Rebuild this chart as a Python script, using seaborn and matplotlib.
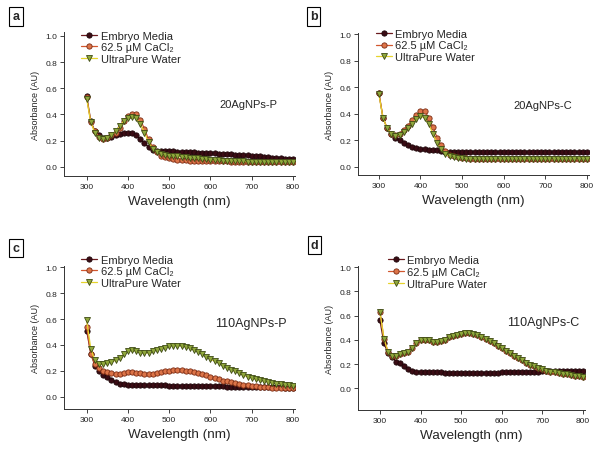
import matplotlib
matplotlib.use("Agg")
import matplotlib.pyplot as plt
import pandas as pd
import seaborn as sns

wavelength = [300, 310, 320, 330, 340, 350, 360, 370, 380, 390,
              400, 410, 420, 430, 440, 450, 460, 470, 480, 490,
              500, 510, 520, 530, 540, 550, 560, 570, 580, 590,
              600, 610, 620, 630, 640, 650, 660, 670, 680, 690,
              700, 710, 720, 730, 740, 750, 760, 770, 780, 790, 800]

series_names = ["Embryo Media", "62.5 µM CaCl₂", "UltraPure Water"]
panel_letters = ["a", "b", "c", "d"]
panel_titles = ["20AgNPs-P", "20AgNPs-C", "110AgNPs-P", "110AgNPs-C"]

# panel a: 20AgNPs-P
a_embryo = [.54, .35, .27, .24, .22, .22, .23, .24, .25, .26,
            .26, .255, .24, .21, .18, .15, .13, .122, .122, .121,
            .12, .118, .117, .116, .114, .112, .111, .109, .107, .105,
            .104, .102, .10, .098, .096, .095, .093, .091, .089, .087,
            .085, .082, .079, .076, .074, .071, .068, .066, .063, .06, .058]
a_cacl2 = [.53, .34, .27, .23, .21, .22, .24, .26, .30, .35,
           .39, .40, .40, .36, .29, .21, .15, .11, .085, .072,
           .065, .06, .056, .053, .05, .048, .047, .046, .045, .044,
           .043, .042, .042, .041, .041, .04, .04, .04, .04, .04,
           .04, .04, .04, .04, .04, .04, .04, .04, .04, .04, .04]
a_water = [.52, .34, .26, .22, .21, .22, .24, .27, .31, .35,
           .37, .38, .37, .33, .26, .19, .14, .11, .095, .09,
           .085, .082, .079, .076, .073, .07, .067, .064, .061, .058,
           .055, .052, .05, .048, .046, .044, .043, .042, .041, .04,
           .04, .04, .04, .04, .04, .04, .04, .04, .04, .04, .04]

# panel b: 20AgNPs-C
b_embryo = [.56, .37, .29, .25, .22, .20, .18, .16, .145, .138,
            .133, .13, .128, .126, .124, .115, .114, .113, .113, .112,
            .112, .112, .111, .111, .111, .111, .11, .11, .11, .11,
            .11, .11, .11, .11, .11, .11, .109, .109, .109, .109,
            .109, .109, .109, .108, .108, .108, .108, .108, .108, .108, .108]
b_cacl2 = [.56, .37, .29, .25, .24, .25, .28, .31, .35, .39,
           .42, .42, .37, .30, .22, .16, .12, .09, .078, .07,
           .066, .063, .061, .06, .06, .06, .06, .06, .06, .06,
           .06, .06, .06, .06, .06, .06, .06, .06, .06, .06,
           .06, .06, .06, .06, .06, .06, .06, .06, .06, .06, .06]
b_water = [.55, .37, .29, .25, .23, .24, .26, .29, .32, .36,
           .38, .37, .32, .25, .18, .13, .095, .078, .07, .065,
           .062, .06, .06, .06, .06, .06, .06, .06, .06, .06,
           .06, .06, .06, .06, .06, .06, .06, .06, .06, .06,
           .06, .06, .06, .06, .06, .06, .06, .06, .06, .06, .06]

# panel c: 110AgNPs-P
c_embryo = [.51, .33, .24, .20, .17, .15, .13, .115, .10, .095,
            .094, .093, .092, .091, .09, .09, .089, .088, .088, .087,
            .086, .086, .085, .085, .084, .083, .083, .082, .081, .081,
            .08, .08, .079, .079, .078, .078, .077, .077, .076, .076,
            .075, .075, .074, .074, .073, .073, .072, .072, .071, .071, .07]
c_cacl2 = [.54, .33, .25, .22, .20, .19, .18, .175, .175, .18,
           .19, .19, .185, .18, .175, .175, .178, .183, .19, .197,
           .202, .205, .205, .203, .20, .195, .19, .185, .175, .165,
           .155, .145, .135, .125, .118, .11, .104, .098, .092, .088,
           .084, .08, .077, .074, .072, .07, .068, .067, .066, .065, .064]
c_water = [.59, .37, .28, .25, .25, .26, .27, .28, .30, .33,
           .35, .36, .35, .34, .335, .34, .35, .36, .37, .38,
           .39, .395, .395, .39, .385, .375, .36, .345, .33, .31,
           .29, .275, .26, .24, .225, .21, .195, .18, .165, .155,
           .145, .135, .127, .12, .114, .108, .102, .097, .092, .087, .082]

# panel d: 110AgNPs-C
d_embryo = [.56, .37, .29, .255, .22, .205, .185, .16, .14, .135,
            .134, .133, .132, .131, .13, .13, .129, .128, .128, .127,
            .127, .127, .127, .127, .127, .127, .128, .128, .129, .129,
            .13, .13, .131, .132, .133, .134, .135, .136, .137, .138,
            .139, .14, .141, .142, .142, .143, .143, .144, .144, .145, .145]
d_cacl2 = [.63, .41, .30, .27, .27, .28, .295, .30, .33, .37,
           .40, .40, .40, .385, .38, .39, .40, .42, .43, .44,
           .45, .455, .455, .45, .44, .425, .41, .39, .37, .35,
           .33, .31, .29, .27, .25, .23, .21, .195, .18, .165,
           .155, .145, .135, .13, .125, .12, .115, .11, .105, .10, .095]
d_water = [.63, .41, .30, .27, .27, .28, .295, .30, .33, .37,
           .40, .40, .40, .385, .38, .39, .40, .42, .43, .44,
           .45, .455, .455, .45, .44, .425, .41, .39, .37, .35,
           .33, .31, .29, .27, .25, .23, .21, .195, .18, .165,
           .155, .145, .135, .13, .125, .12, .115, .11, .105, .10, .095]

panel_data = [
    [a_embryo, a_cacl2, a_water],
    [b_embryo, b_cacl2, b_water],
    [c_embryo, c_cacl2, c_water],
    [d_embryo, d_cacl2, d_water],
]

sns.set_theme(style="ticks")
plt.rcParams["font.family"] = ["Liberation Sans", "DejaVu Sans"]

line_colors = ["#6a1a1e", "#d2572e", "#e6d42c"]
face_colors = ["#3a0c14", "#dc7448", "#90a83c"]
edge_colors = ["#1c0508", "#7a2a12", "#3e4a14"]
markers = ["o", "o", "v"]

# axes boxes in pixels: left, top, right, bottom
boxes = [(64, 33, 295, 177), (358, 34, 589, 176),
         (64, 267, 295, 410), (358, 267, 585, 411)]
ylims = [(-0.07, 1.03), (-0.063, 1.01), (-0.095, 1.01), (-0.18, 1.01)]
xlims = [(245, 805), (250, 805), (245, 805), (246, 805)]
title_pos = [(693, 0.48), (694, 0.466), (698, 0.57), (701, 0.545)]
title_size = [8, 8, 9, 9]
legend_anchor = [(0.074, 1.01), (0.078, 1.03), (0.074, 1.08), (0.13, 1.075)]
letter_pos = [(16, 17.5), (313.5, 17.5), (16, 249), (314.5, 246)]

W, H = 600, 452
fig = plt.figure(figsize=(6, 4.52), dpi=100)

for i in range(4):
    l, t, r, b = boxes[i]
    ax = fig.add_axes([l / W, 1 - b / H, (r - l) / W, (b - t) / H])
    frame = pd.DataFrame({"wavelength": wavelength})
    for j, name in enumerate(series_names):
        frame["absorbance"] = panel_data[i][j]
        sns.lineplot(
            data=frame, x="wavelength", y="absorbance",
            color=line_colors[j], linewidth=0.9, marker=markers[j],
            markersize=3.8, markerfacecolor=face_colors[j],
            markeredgecolor=edge_colors[j], markeredgewidth=0.6,
            label=name, errorbar=None, ax=ax,
        )
    ax.set_xlim(*xlims[i])
    ax.set_ylim(*ylims[i])
    ax.set_xticks([300, 400, 500, 600, 700, 800])
    ax.set_yticks([0.0, 0.2, 0.4, 0.6, 0.8, 1.0])
    ax.set_yticklabels([f"{v:.1f}" for v in [0.0, 0.2, 0.4, 0.6, 0.8, 1.0]])
    ax.tick_params(labelsize=6, length=3, width=0.6, pad=2, colors="#222222")
    for side in ["top", "right"]:
        ax.spines[side].set_visible(False)
    for side in ["left", "bottom"]:
        ax.spines[side].set_linewidth(0.7)
        ax.spines[side].set_color("#333333")
    ax.set_xlabel("Wavelength (nm)", fontsize=9.7, labelpad=4)
    ax.set_ylabel("Absorbance (AU)", fontsize=6.5, labelpad=4)
    ax.text(title_pos[i][0], title_pos[i][1], panel_titles[i],
            fontsize=title_size[i], ha="center", va="center")
    ax.legend(loc="upper left", bbox_to_anchor=legend_anchor[i], frameon=False,
              borderpad=0, borderaxespad=0, handlelength=1.45,
              handletextpad=0.3, labelspacing=0.15, fontsize=8)
    fig.text(letter_pos[i][0] / W, 1 - letter_pos[i][1] / H, panel_letters[i],
             fontsize=9, weight="bold", ha="center", va="center",
             bbox=dict(boxstyle="square,pad=0.25", fc="white", ec="black", lw=0.8))

fig.savefig("out.png", dpi=100)
